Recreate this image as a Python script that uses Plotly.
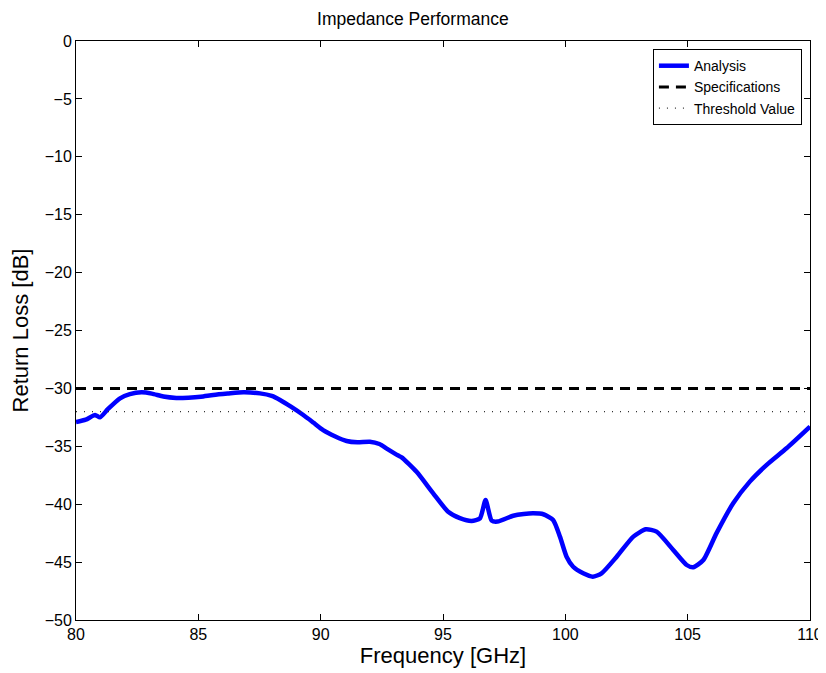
import plotly.graph_objects as go

freq = [80.0, 80.4, 80.78, 80.98, 81.3, 81.8, 82.2, 82.68, 83.1, 83.57, 84.1, 84.59, 85.1, 85.61,
        86.2, 86.84, 87.52, 88.0, 88.34, 88.8, 89.29, 89.7, 90.1, 90.6, 91.06, 91.5, 92.01, 92.4,
        92.7, 93.17, 93.31, 93.92, 94.6, 95.21, 95.69, 96.17, 96.51, 96.74, 96.99, 97.23, 97.87,
        98.3, 98.69, 99.1, 99.5, 99.78, 100.05, 100.32, 100.73, 101.12, 101.48, 102.1, 102.78,
        103.29, 103.73, 104.41, 104.96, 105.23, 105.64, 106.18, 106.86, 107.54, 108.23, 109.04,
        110.0]
analysis = [-32.9, -32.7, -32.3, -32.5, -31.8, -30.86, -30.5, -30.34, -30.45, -30.7, -30.82, -30.8,
            -30.72, -30.57, -30.45, -30.34, -30.43, -30.65, -31.0, -31.6, -32.3, -32.95, -33.6,
            -34.15, -34.54, -34.65, -34.6, -34.8, -35.2, -35.8, -35.95, -37.2, -39.06, -40.65,
            -41.2, -41.45, -41.22, -39.64, -41.42, -41.5, -41.0, -40.85, -40.79, -40.87, -41.36,
            -42.8, -44.53, -45.4, -45.97, -46.26, -45.97, -44.53, -42.8, -42.17, -42.37, -43.95,
            -45.25, -45.45, -44.82, -42.5, -39.92, -38.05, -36.6, -35.17, -33.3]
spec_level = -30
threshold_level = -32
x_range = [80, 110]
y_range = [-50, 0]
x_ticks = [80, 85, 90, 95, 100, 105, 110]
y_ticks = [0, -5, -10, -15, -20, -25, -30, -35, -40, -45, -50]

FONT = "Liberation Sans, Arial, Helvetica"

fig = go.Figure()
fig.add_trace(go.Scatter(x=freq, y=analysis, mode="lines", name="Analysis",
                         line=dict(color="#0000ff", width=4.5, shape="spline", smoothing=0.6)))
fig.add_trace(go.Scatter(x=x_range, y=[spec_level, spec_level], mode="lines", name="Specifications",
                         line=dict(color="black", width=3, dash="10px,7px")))
fig.add_trace(go.Scatter(x=x_range, y=[threshold_level, threshold_level], mode="lines",
                         name="Threshold Value",
                         line=dict(color="#333333", width=1.3, dash="1px,7px")))

axis_common = dict(showgrid=False, zeroline=False, showline=True, linecolor="black", linewidth=1,
                   mirror="ticks", ticks="inside", ticklen=6, tickcolor="black", automargin=False,
                   ticklabeloverflow="allow",
                   tickfont=dict(size=16, color="black", family=FONT))
fig.update_xaxes(range=x_range, tickvals=x_ticks, ticktext=[str(v) for v in x_ticks],
                 title=dict(text="Frequency [GHz]", font=dict(size=22, family=FONT, color="black"), standoff=0),
                 **axis_common)
fig.update_yaxes(range=y_range, tickvals=y_ticks,
                 ticktext=[("\u2212" + str(-v)) if v < 0 else str(v) for v in y_ticks],
                 title=dict(text="Return Loss [dB]", font=dict(size=22, family=FONT, color="black"), standoff=11),
                 **axis_common)

fig.update_layout(
    width=818, height=665,
    margin=dict(l=68, r=16, t=33, b=53, autoexpand=False),
    paper_bgcolor="white", plot_bgcolor="white",
    title=dict(text="Impedance Performance", x=0.495, xanchor="center", xref="container",
               yref="container", y=0.983, yanchor="middle",
               font=dict(size=17.5, family=FONT, color="black")),
    legend=dict(x=0.989, y=0.986, xanchor="right", yanchor="top", bgcolor="white",
                bordercolor="black", borderwidth=1, tracegroupgap=0,
                font=dict(size=14, family=FONT, color="black"),
                itemwidth=30),
    showlegend=True,
)

fig.write_html("out.html")
